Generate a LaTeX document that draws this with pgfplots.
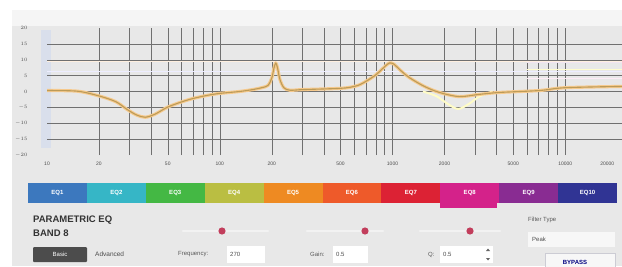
\documentclass[border=0pt]{standalone}
\usepackage{pgfplots}
\pgfplotsset{compat=1.18}
\usepackage{fontspec}
\setmainfont{Liberation Sans}
\definecolor{panel}{HTML}{E8E8E8}
\definecolor{gridc}{HTML}{707070}
\definecolor{halo}{HTML}{F6C98C}
\definecolor{curve}{HTML}{BC9B58}
\definecolor{slbar}{HTML}{D9DFEC}
\definecolor{tA}{HTML}{3C78BE}
\definecolor{tB}{HTML}{36B6C6}
\definecolor{tC}{HTML}{44B844}
\definecolor{tD}{HTML}{BABE42}
\definecolor{tE}{HTML}{EE8A22}
\definecolor{tF}{HTML}{EE5A2A}
\definecolor{tG}{HTML}{DC2234}
\definecolor{tH}{HTML}{D4228A}
\definecolor{tI}{HTML}{892C92}
\definecolor{tJ}{HTML}{303494}
\definecolor{knob}{HTML}{C23E5C}
\begin{document}
\begin{tikzpicture}
\useasboundingbox (0,0) rectangle (622pt,266pt);
\clip (0,0) rectangle (622pt,266pt);
\fill[white] (0,0) rectangle (622pt,266pt);
\fill[panel] (12pt,0) rectangle (622pt,256pt);
\fill[black!4] (12pt,240pt) rectangle (622pt,256pt);
% left slider bar
\fill[slbar] (41pt,118pt) rectangle (51pt,236pt);
\begin{axis}[
  at={(47pt,111pt)}, anchor=south west,
  scale only axis, width=575pt, height=127pt,
  xmode=log, xmin=10, xmax=21300, ymin=-20, ymax=20,
  axis line style={draw=none},
  major tick length=0pt, minor tick length=0pt,
  xtick={10,20,50,100,200,500,1000,2000,5000,10000,20000},
  xticklabels={10,20,50,100,200,500,1000,2000,5000,10000,\makebox[0pt][r]{20000\hspace{3pt}}},
  minor xtick={20,30,40,50,60,70,80,90,100,200,300,400,500,600,700,800,900,1000,2000,3000,4000,5000,6000,7000,8000,9000,10000},
  ytick={-20,-15,...,20},
  minor ytick={-15,-10,...,15},
  grid=minor,
  minor grid style={gridc, line width=0.4pt},
  tick label style={font=\fontsize{5}{6}\selectfont, text=black!70},
  xticklabel style={yshift=-3pt},
  yticklabel style={xshift=-16pt},
  clip=true,
]
% faint band lines
\addplot[draw=orange!12, line width=0.8pt] coordinates {(10,9.6) (21300,9.6)};
\addplot[draw=blue!7, line width=0.8pt] coordinates {(10,6.2) (21300,6.2)};
\addplot[draw=violet!10, line width=0.8pt] coordinates {(6000,9.3) (21300,9.3)};
\addplot[draw=yellow!20, line width=0.8pt] coordinates {(6000,7) (21300,7)};
\addplot[draw=magenta!8, line width=0.8pt] coordinates {(6000,4.2) (21300,4.2)};
% faint band curve (dip)
\addplot[draw=yellow!22, line width=2pt, smooth] coordinates {
(1500,0) (1800,-1.5) (2100,-4) (2400,-5.5) (2750,-4) (3200,-1.5) (3800,0)};
\addplot[draw=halo, line width=3.2pt, smooth, line join=round] coordinates {
(10,0.3) (15,0.1) (20,-1.4) (25,-3.2) (29,-5.6) (33,-7.4) (37,-8.1) (42,-7.2) (50,-4.9) (60,-3.3) (70,-2.2) (85,-1.2) (100,-0.6) (130,0) (155,0.6) (175,1.2) (190,1.9) (200,4.2) (206,7.4) (211,9) (216,7.4) (223,3.8) (235,1.2) (255,0.4) (300,0.6) (400,0.8) (500,1) (564,1.3) (650,2.2) (790,5) (900,7.8) (960,9) (1020,8.6) (1100,6.9) (1250,4.4) (1530,1.6) (1870,-0.3) (2430,-1.6) (3180,-0.9) (4160,-0.3) (7050,0.3) (10000,1.2) (21300,1.6)};
\addplot[draw=curve, line width=1.1pt, smooth, line join=round] coordinates {
(10,0.3) (15,0.1) (20,-1.4) (25,-3.2) (29,-5.6) (33,-7.4) (37,-8.1) (42,-7.2) (50,-4.9) (60,-3.3) (70,-2.2) (85,-1.2) (100,-0.6) (130,0) (155,0.6) (175,1.2) (190,1.9) (200,4.2) (206,7.4) (211,9) (216,7.4) (223,3.8) (235,1.2) (255,0.4) (300,0.6) (400,0.8) (500,1) (564,1.3) (650,2.2) (790,5) (900,7.8) (960,9) (1020,8.6) (1100,6.9) (1250,4.4) (1530,1.6) (1870,-0.3) (2430,-1.6) (3180,-0.9) (4160,-0.3) (7050,0.3) (10000,1.2) (21300,1.6)};
\end{axis}
% tabs
\foreach \c/\lab [count=\i from 0] in {tA/EQ1,tB/EQ2,tC/EQ3,tD/EQ4,tE/EQ5,tF/EQ6,tG/EQ7,tH/EQ8,tI/EQ9,tJ/EQ10}{
  \pgfmathsetmacro{\xa}{28+58.9*\i}
  \pgfmathsetmacro{\xb}{28+58.9*(\i+1)}
  \fill[\c] (\xa pt,63pt) rectangle (\xb pt,83pt);
  \node[text=white, font=\fontsize{6}{7}\selectfont\bfseries] at ({(\xa+\xb)/2 pt},73pt) {\lab};
}
\fill[tH] (440.3pt,58pt) rectangle (497.2pt,63pt);
% controls
\node[anchor=west, font=\fontsize{9.5}{10}\selectfont\bfseries, text=black!80, inner sep=0] at (33pt,46pt) {PARAMETRIC EQ};
\node[anchor=west, font=\fontsize{9.5}{10}\selectfont\bfseries, text=black!80, inner sep=0] at (33pt,33pt) {BAND 8};
\fill[black!70, rounded corners=1pt] (33pt,4pt) rectangle (87pt,19pt);
\node[text=white, font=\fontsize{6}{7}\selectfont] at (60pt,11.5pt) {Basic};
\node[anchor=west, inner sep=0, text=black!70, font=\fontsize{6.5}{7}\selectfont] at (95pt,11.5pt) {Advanced};
% sliders
\draw[white!95!black, line width=2.5pt, line cap=round] (183pt,35pt) -- (268pt,35pt);
\fill[knob] (222pt,35pt) circle (3.6pt);
\draw[white!95!black, line width=2.5pt, line cap=round] (307pt,35pt) -- (383pt,35pt);
\fill[knob] (365pt,35pt) circle (3.6pt);
\draw[white!95!black, line width=2.5pt, line cap=round] (420pt,35pt) -- (500pt,35pt);
\fill[knob] (470pt,35pt) circle (3.6pt);
% inputs
\node[anchor=west, inner sep=0, text=black!65, font=\fontsize{6}{7}\selectfont] at (178pt,11.5pt) {Frequency:};
\fill[white] (227pt,3pt) rectangle (265pt,20pt);
\node[anchor=west, inner sep=0, text=black!70, font=\fontsize{6}{7}\selectfont] at (230pt,11.5pt) {270};
\node[anchor=west, inner sep=0, text=black!65, font=\fontsize{6}{7}\selectfont] at (310pt,11.5pt) {Gain:};
\fill[white] (333pt,3pt) rectangle (368pt,20pt);
\node[anchor=west, inner sep=0, text=black!70, font=\fontsize{6}{7}\selectfont] at (336pt,11.5pt) {0.5};
\node[anchor=west, inner sep=0, text=black!65, font=\fontsize{6}{7}\selectfont] at (428pt,11.5pt) {Q:};
\fill[white] (440pt,3pt) rectangle (493pt,20pt);
\node[anchor=west, inner sep=0, text=black!70, font=\fontsize{6}{7}\selectfont] at (443pt,11.5pt) {0.5};
\fill[black!60] (486pt,15pt) -- (490pt,15pt) -- (488pt,17.5pt) -- cycle;
\fill[black!60] (486pt,8pt) -- (490pt,8pt) -- (488pt,5.5pt) -- cycle;
\node[anchor=west, inner sep=0, text=black!65, font=\fontsize{6}{7}\selectfont] at (528pt,46pt) {Filter Type};
\fill[black!3] (528pt,19pt) rectangle (615pt,34pt);
\node[anchor=west, inner sep=0, text=black!70, font=\fontsize{6}{7}\selectfont] at (532pt,26.5pt) {Peak};
\draw[blue!15!black!20, fill=black!3] (545pt,-6pt) rectangle (615pt,13pt);
\node[text=blue!50!black, font=\fontsize{6}{7}\selectfont\bfseries] at (575pt,4pt) {BYPASS};
\end{tikzpicture}
\end{document}
